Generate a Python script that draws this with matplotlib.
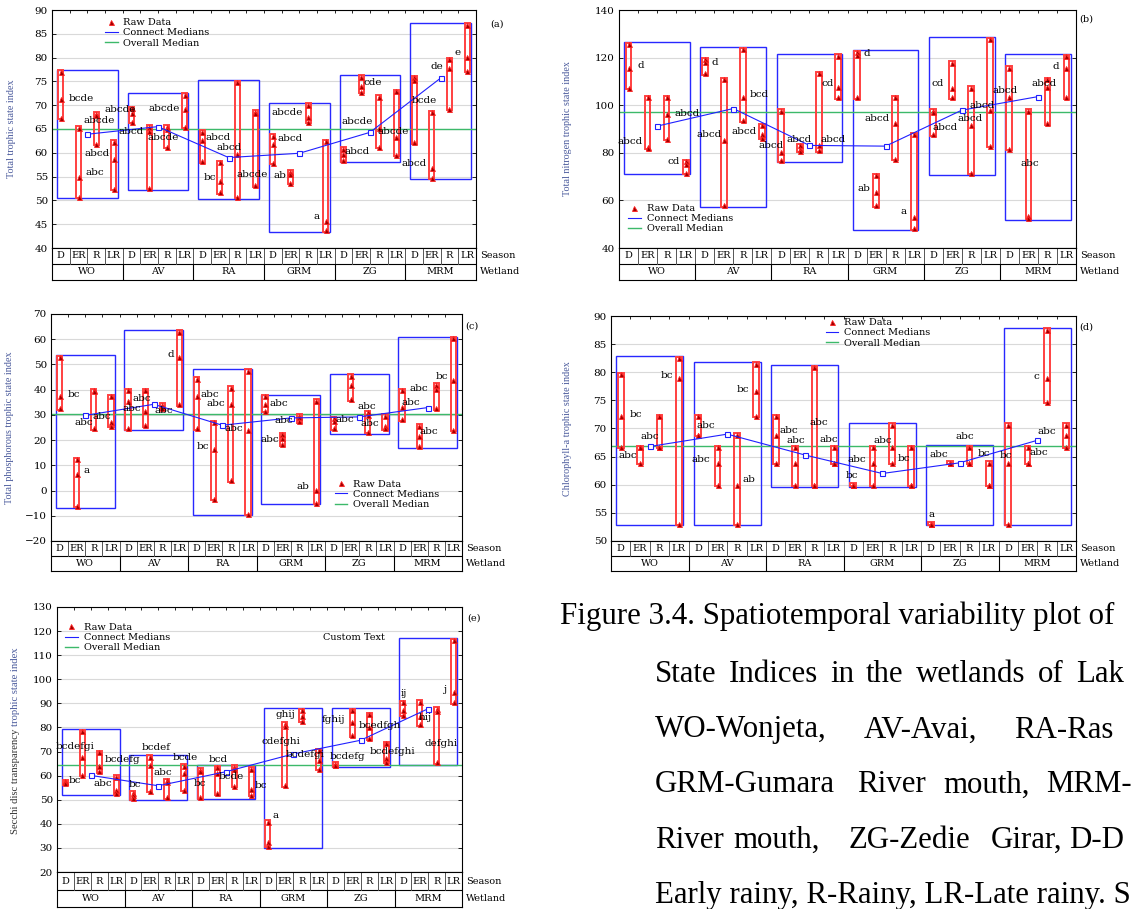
import matplotlib
matplotlib.use('Agg')
import matplotlib.pyplot as plt
import numpy as np
from matplotlib.patches import Rectangle
from matplotlib.lines import Line2D

W, H = 1136, 909
plt.rcParams['font.family'] = 'DejaVu Serif'

wetlands = ['WO', 'AV', 'RA', 'GRM', 'ZG', 'MRM']
seasons = ['D', 'ER', 'R', 'LR']

# (a) total trophic state index, 3 raw values per wetland x season
tsi_raw = [[77.0, 71.2, 67.3], [65.3, 55.0, 50.8], [68.2, 67.9, 61.9], [62.3, 58.8, 52.5],
           [69.4, 68.3, 66.5], [65.5, 64.5, 52.6], [65.5, 65.0, 61.3], [72.2, 69.1, 65.5],
           [64.4, 62.7, 58.2], [58.0, 54.0, 51.7], [74.8, 59.7, 50.7], [68.6, 68.3, 53.2],
           [63.6, 61.8, 57.9], [56.0, 55.6, 53.7], [70.1, 67.6, 66.5], [62.4, 45.6, 43.7],
           [60.9, 59.8, 58.4], [76.0, 74.1, 72.8], [71.8, 65.2, 61.3], [72.9, 63.3, 59.6],
           [75.9, 75.3, 62.2], [68.5, 56.8, 54.8], [79.7, 77.8, 69.3], [86.9, 80.2, 77.2]]
tsi_medians = [63.9, 65.5, 59.0, 59.9, 64.3, 75.7]
tsi_overall = 65.0
tsi_letters = ['bcde', 'abcde', 'abcde', 'abcd', 'abcd', 'abc', 'abcde', 'abcde',
               'abcd', 'abcd', 'bc', 'abcde', 'abcde', 'abcd', 'ab', 'a',
               'abcde', 'abcd', 'cde', 'abcde', 'abcd', 'bcde', 'de', 'e']
tsi_letter_xy = [(1.16, 71.4), (2.18, 66.8), (3.37, 69.0), (3.97, 64.5), (2.08, 59.9), (1.9, 55.9),
                 (5.86, 69.3), (5.82, 63.2), (8.88, 63.2), (9.52, 61.1), (8.42, 54.8), (10.84, 55.5),
                 (12.84, 68.5), (12.99, 63.0), (12.39, 55.2), (14.5, 46.6), (16.8, 66.5), (16.76, 60.3),
                 (17.67, 74.8), (18.8, 64.5), (20.0, 57.8), (20.58, 71.0), (21.3, 78.1), (22.48, 81.0)]

# (b) total nitrogen trophic state index
tn_raw = [[125.6, 115.8, 107.4], [103.4, 82.6, 82.2], [103.4, 96.2, 86.0], [76.5, 75.1, 71.7],
          [119.4, 118.3, 113.4], [110.8, 85.5, 58.0], [123.5, 103.6, 93.6], [91.6, 87.8, 86.4],
          [97.6, 80.3, 76.9], [83.1, 81.7, 80.8], [113.4, 83.1, 81.1], [120.8, 107.6, 103.4],
          [122.2, 121.0, 103.4], [70.6, 63.5, 57.9], [103.4, 92.4, 77.5], [87.8, 53.1, 48.3],
          [97.6, 97.0, 87.7], [117.8, 107.4, 103.4], [107.4, 91.5, 71.5], [127.7, 98.0, 82.9],
          [115.8, 103.5, 81.7], [97.6, 53.6, 52.6], [110.9, 107.6, 92.4], [120.7, 115.8, 103.4]]
tn_medians = [91.2, 98.6, 83.1, 82.8, 97.9, 103.6]
tn_overall = 97.1
tn_letters = ['d', 'abcd', 'abcd', 'cd', 'd', 'bcd', 'abcd', 'abcd', 'abcd', 'abcd', 'abcd', 'cd',
              'd', 'abcd', 'ab', 'a', 'cd', 'abcd', 'abcd', 'abcd', 'abcd', 'abcd', 'abc', 'd']
tn_letter_xy = [(0.66, 116.6), (3.06, 96.4), (0.08, 84.6), (2.39, 76.2), (4.53, 118.0), (6.88, 104.5),
                (4.22, 87.6), (6.05, 88.8), (7.5, 82.9), (8.98, 85.5), (10.75, 85.5), (10.48, 109.0),
                (12.49, 121.8), (13.03, 94.3), (12.37, 64.8), (14.45, 55.2), (16.22, 109.0), (16.65, 90.6),
                (17.94, 94.3), (18.58, 99.7), (19.77, 106.2), (21.81, 109.0), (21.1, 75.5), (22.43, 116.2)]

# (c) total phosphorous trophic state index
tp_raw = [[52.9, 37.3, 32.6], [12.5, 6.5, -6.1], [39.8, 39.5, 24.7], [37.3, 27.2, 25.7],
          [39.8, 35.7, 24.7], [39.8, 31.7, 25.9], [34.0, 33.2, 32.6], [63.0, 52.9, 34.2],
          [44.3, 37.3, 24.7], [27.1, 16.3, -3.2], [40.8, 34.2, 4.0], [47.5, 24.0, -9.1],
          [37.3, 34.2, 31.7], [22.3, 20.7, 18.3], [29.7, 29.0, 27.4], [35.7, 0.1, -4.8],
          [28.6, 27.6, 24.7], [45.6, 42.0, 36.2], [31.0, 30.0, 23.3], [29.7, 25.7, 24.7],
          [39.8, 33.3, 28.2], [25.7, 21.6, 17.6], [42.0, 40.2, 32.6], [60.3, 43.9, 24.0]]
tp_medians = [29.8, 34.2, 25.9, 28.8, 29.2, 32.9]
tp_overall = 30.4
tp_letters = ['bc', 'abc', 'abc', 'a', 'abc', 'abc', 'abc', 'd', 'abc', 'abc', 'abc', 'bc',
              'abc', 'abc', 'abc', 'ab', 'abc', 'abc', 'abc', 'abc', 'abc', 'bc', 'abc']
tp_letter_xy = [(0.82, 37.9), (1.41, 27.1), (2.48, 29.3), (1.56, 8.0), (4.83, 36.3), (4.23, 32.4),
                (6.08, 31.6), (6.5, 53.8), (8.8, 37.9), (9.15, 34.6), (10.16, 24.8), (8.37, 17.6),
                (12.81, 34.6), (13.12, 27.8), (12.26, 20.4), (14.2, 1.7), (16.64, 28.0), (17.94, 33.5),
                (18.14, 26.4), (20.5, 35.1), (21.0, 40.6), (22.34, 45.1), (21.56, 23.6)]

# (d) chlorophyll-a trophic state index
chla_raw = [[79.7, 72.2, 66.7], [66.7, 66.7, 63.9], [72.2, 66.7, 66.7], [82.5, 79.0, 53.1],
            [72.2, 68.9, 68.9], [66.7, 63.9, 60.0], [68.9, 60.0, 53.1], [81.5, 76.7, 72.2],
            [72.2, 68.9, 63.9], [66.7, 63.9, 60.0], [80.9, 60.0, 60.0], [66.7, 63.9, 63.9],
            [60.0, 60.0, 60.0], [66.7, 63.9, 60.0], [70.7, 66.7, 63.9], [66.7, 60.0, 60.0],
            [53.1, 53.1, 53.1], [63.9, 63.9, 63.9], [66.7, 63.9, 63.9], [63.9, 60.0, 60.0],
            [70.7, 63.9, 53.1], [66.7, 63.9, 63.9], [87.6, 79.0, 74.7], [70.7, 68.9, 66.7]]
chla_medians = [66.8, 69.0, 65.3, 62.0, 63.9, 67.9]
chla_overall = 66.8
chla_letters = ['bc', 'abc', 'abc', 'bc', 'abc', 'abc', 'bc', 'ab', 'abc', 'abc', 'abc', 'abc',
                'abc', 'bc', 'abc', 'bc', 'a', 'abc', 'abc', 'bc', 'bc', 'abc', 'abc', 'c']
chla_letter_xy = [(0.79, 72.5), (0.37, 65.2), (1.51, 68.5), (2.36, 79.5), (4.4, 70.6), (4.16, 64.5),
                  (6.33, 77.0), (6.6, 61.0), (8.68, 69.7), (9.02, 67.9), (10.25, 71.1), (10.76, 68.1),
                  (12.2, 64.5), (11.92, 61.7), (13.51, 67.9), (14.62, 64.7), (16.02, 54.7), (16.4, 65.4),
                  (17.77, 68.5), (18.77, 65.6), (19.9, 65.2), (21.57, 65.8), (22.0, 69.5), (21.44, 79.3)]

# (e) Secchi disc transparency trophic state index
sd_raw = [[57.6, 57.2, 56.9], [78.4, 67.6, 60.4], [69.7, 64.1, 61.8], [59.6, 54.2, 52.8],
          [52.8, 51.8, 50.7], [67.7, 64.5, 53.8], [58.0, 57.4, 51.0], [64.1, 61.1, 54.2],
          [62.5, 61.8, 51.0], [63.4, 61.1, 52.6], [63.7, 62.9, 55.8], [62.9, 54.6, 52.0],
          [40.8, 32.3, 30.9], [81.4, 80.5, 56.0], [87.1, 84.6, 82.8], [70.6, 66.6, 62.8],
          [65.0, 64.5, 64.3], [87.1, 82.1, 76.7], [85.4, 80.2, 75.5], [73.5, 67.2, 65.7],
          [90.4, 87.2, 85.3], [90.6, 84.6, 81.4], [87.8, 86.7, 65.5], [116.2, 94.6, 90.6]]
sd_medians = [60.1, 55.8, 61.6, 69.0, 74.7, 87.8]
sd_overall = 64.4
sd_letters = ['bcdefgi', 'bc', 'bcdefg', 'abc', 'bcdef', 'bc', 'abc', 'bcde', 'bcd', 'bc', 'bcde', 'bc',
              'a', 'cdefghi', 'ghij', 'bcdefgi', 'fghij', 'bcdefg', 'bcedfgh', 'bcdefghi', 'ij', 'hij',
              'defghi', 'j']
sd_letter_xy = [(0.55, 71.9), (0.55, 58.0), (3.36, 66.9), (2.19, 56.7), (5.36, 71.5), (4.11, 56.4),
                (5.79, 61.1), (7.1, 67.7), (9.08, 66.5), (7.97, 56.9), (9.85, 59.8), (11.59, 56.1),
                (12.44, 43.4), (12.78, 74.0), (13.03, 85.3), (14.2, 68.6), (15.88, 83.5), (16.73, 68.1),
                (18.61, 80.9), (19.35, 70.1), (20.08, 94.2), (21.34, 84.1), (22.25, 73.3), (22.47, 95.7)]

# justified caption, as far as it is visible on the page
caption_lines = [
    (616, ['Figure 3.4. Spatiotemporal variability plot of'], [560]),
    (675, ['State', 'Indices', 'in', 'the', 'wetlands', 'of', 'Lak'], [655, 729, 830, 866, 916, 1038, 1076]),
    (730, ['WO-Wonjeta,', 'AV-Avai,', 'RA-Ras'], [655, 864, 1014]),
    (785, ['GRM-Gumara', 'River', 'mouth,', 'MRM-'], [655, 857, 943, 1046]),
    (840, ['River', 'mouth,', 'ZG-Zedie', 'Girar,', 'D-D'], [655, 733, 849, 991, 1069]),
    (895, ['Early rainy, R-Rainy, LR-Late rainy. S'], [655]),
]

fig = plt.figure(figsize=(W / 100, H / 100), dpi=100)


def px_axes(left, top, right, bottom):
    return fig.add_axes([left / W, 1 - bottom / H, (right - left) / W, (bottom - top) / H])


def draw_panel(frame, raw, medians, overall, ylim, ystep, ylabel, letters, letter_xy,
               tag, tag_xy, leg_xy, label_x=-0.09):
    left, top, right, bottom, season_bot, table_bot = frame
    ax = px_axes(left, top, right, bottom)
    ax.set_xlim(-0.5, 23.5)
    ax.set_ylim(*ylim)
    ax.set_yticks(np.arange(ylim[0], ylim[1] + 0.01, ystep))
    ax.set_xticks(np.arange(0.5, 23, 1))
    ax.tick_params(axis='x', top=True, bottom=False, direction='in', length=2, width=0.6,
                   labelbottom=False, labeltop=False)
    ax.tick_params(axis='y', direction='in', length=3, width=0.6, right=True,
                   labelsize=7.5, pad=3)
    ax.grid(axis='y', color='#d9d9d9', lw=0.8)
    ax.set_axisbelow(True)
    for s in ax.spines.values():
        s.set_linewidth(0.8)
    rng = ylim[1] - ylim[0]

    # wetland boxes
    for w in range(6):
        vals = [v for pts in raw[4 * w:4 * w + 4] for v in pts]
        lo, hi = min(vals), max(vals)
        ax.add_patch(Rectangle((4 * w - 0.22, lo - 0.008 * rng), 3.44, hi - lo + 0.016 * rng,
                               fill=False, ec='#2828ff', lw=1.0, zorder=2))
    ax.axhline(overall, color='#3cb96a', lw=1.0, zorder=2.5)
    # season bars + raw data
    for i, pts in enumerate(raw):
        lo, hi = min(pts), max(pts)
        ax.add_patch(Rectangle((i - 0.15, lo - 0.006 * rng), 0.30, hi - lo + 0.012 * rng,
                               fill=False, ec='#ff4040', lw=1.4, zorder=3))
        ax.plot([i] * len(pts), pts, ls='none', marker='^', ms=3.6, mfc='#a00000',
                mec='#ff2020', mew=0.6, zorder=4)
    mx = [4 * w + 1.5 for w in range(6)]
    ax.plot(mx, medians, '-', color='#2020ff', lw=0.8, marker='s', ms=3.6,
            mfc='white', mec='#2020ff', mew=0.8, zorder=5)

    for txt, (x, y) in zip(letters, letter_xy):
        ax.text(x, y, txt, ha='center', va='center', fontsize=7.5, zorder=6)

    if ylabel:
        ax.set_ylabel(ylabel, fontsize=7.3, color='#4a5a9c', fontfamily='Liberation Serif')
        ax.yaxis.set_label_coords(label_x, 0.5)

    handles = [Line2D([], [], ls='none', marker='^', ms=3.6, mfc='#a00000', mec='#ff2020', mew=0.6),
               Line2D([], [], color='#2020ff', lw=0.8),
               Line2D([], [], color='#3cb96a', lw=1.0)]
    ax.legend(handles, ['Raw Data', 'Connect Medians', 'Overall Median'], loc='upper left',
              bbox_to_anchor=leg_xy, frameon=False, fontsize=7, borderpad=0,
              borderaxespad=0, labelspacing=0.12, handlelength=1.3, handletextpad=0.6)

    fig.text(tag_xy[0] / W, 1 - tag_xy[1] / H, tag, fontsize=7, ha='left', va='center')

    # category table below the plot
    tax = px_axes(left, bottom, right, table_bot)
    tax.set_xlim(-0.5, 23.5)
    tax.set_ylim(0, 1)
    tax.set_xticks([])
    tax.set_yticks([])
    for s in tax.spines.values():
        s.set_linewidth(0.8)
    split = (table_bot - season_bot) / (table_bot - bottom)
    tax.axhline(split, color='black', lw=0.8)
    for i in range(1, 24):
        tax.plot([i - 0.5, i - 0.5], [split, 1], color='#555555', lw=0.7)
    for w in range(1, 6):
        tax.plot([4 * w - 0.5, 4 * w - 0.5], [0, split], color='black', lw=0.8)
    for i in range(24):
        tax.text(i, (split + 1) / 2, seasons[i % 4], ha='center', va='center', fontsize=7)
    for w in range(6):
        tax.text(4 * w + 1.5, split / 2, wetlands[w], ha='center', va='center', fontsize=7)
    dx = 4 / (right - left)
    tax.text(1 + dx, (split + 1) / 2, 'Season', transform=tax.transAxes, ha='left',
             va='center', fontsize=7)
    tax.text(1 + dx, split / 2, 'Wetland', transform=tax.transAxes, ha='left',
             va='center', fontsize=7)
    return ax


draw_panel((52, 10, 476, 248, 264, 280), tsi_raw, tsi_medians, tsi_overall, (40, 90), 5,
           'Total trophic state index', tsi_letters, tsi_letter_xy, '(a)', (490, 24),
           (0.125, 0.965), label_x=-0.085)
draw_panel((619, 10, 1076, 248, 264, 280), tn_raw, tn_medians, tn_overall, (40, 140), 20,
           'Total nitrogen trophic state index', tn_letters, tn_letter_xy, '(b)', (1079, 19),
           (0.02, 0.185), label_x=-0.103)
draw_panel((51, 314, 462, 541, 556, 571), tp_raw, tp_medians, tp_overall, (-20, 70), 10,
           'Total phosphorous trophic state index', tp_letters, tp_letter_xy, '(c)', (465, 326),
           (0.69, 0.27), label_x=-0.09)
draw_panel((611, 316, 1076, 541, 556, 571), chla_raw, chla_medians, chla_overall, (50, 90), 5,
           'Chlorophyll-a trophic state index', chla_letters, chla_letter_xy, '(d)', (1079, 327),
           (0.462, 0.99), label_x=-0.084)
ax_e = draw_panel((57, 607, 462, 872, 890, 907), sd_raw, sd_medians, sd_overall, (20, 130), 10,
                  None, sd_letters, sd_letter_xy, '(e)', (467, 618), (0.02, 0.94))
ax_e.text(17.11, 117.4, 'Custom Text', ha='center', va='center', fontsize=7)

# two-coloured y label of panel (e)
t1 = fig.text(16 / W, 1 - 834 / H, 'Secchi disc transparency ', rotation=90, ha='center',
              va='bottom', fontsize=7.7, color='#333333', fontfamily='Liberation Serif')
renderer = fig.canvas.get_renderer()
bb = t1.get_window_extent(renderer)
fig.text(16 / W, bb.y1 / H, 'trophic state index', rotation=90, ha='center',
         va='bottom', fontsize=7.7, color='#4a5a9c', fontfamily='Liberation Serif')

# caption on the right
for y0, words, xs in caption_lines:
    for wd, x0 in zip(words, xs):
        fig.text(x0 / W, 1 - y0 / H, wd, ha='left', va='center', fontsize=22.2,
                 fontfamily='Liberation Serif')

fig.savefig('out.png', dpi=100)
